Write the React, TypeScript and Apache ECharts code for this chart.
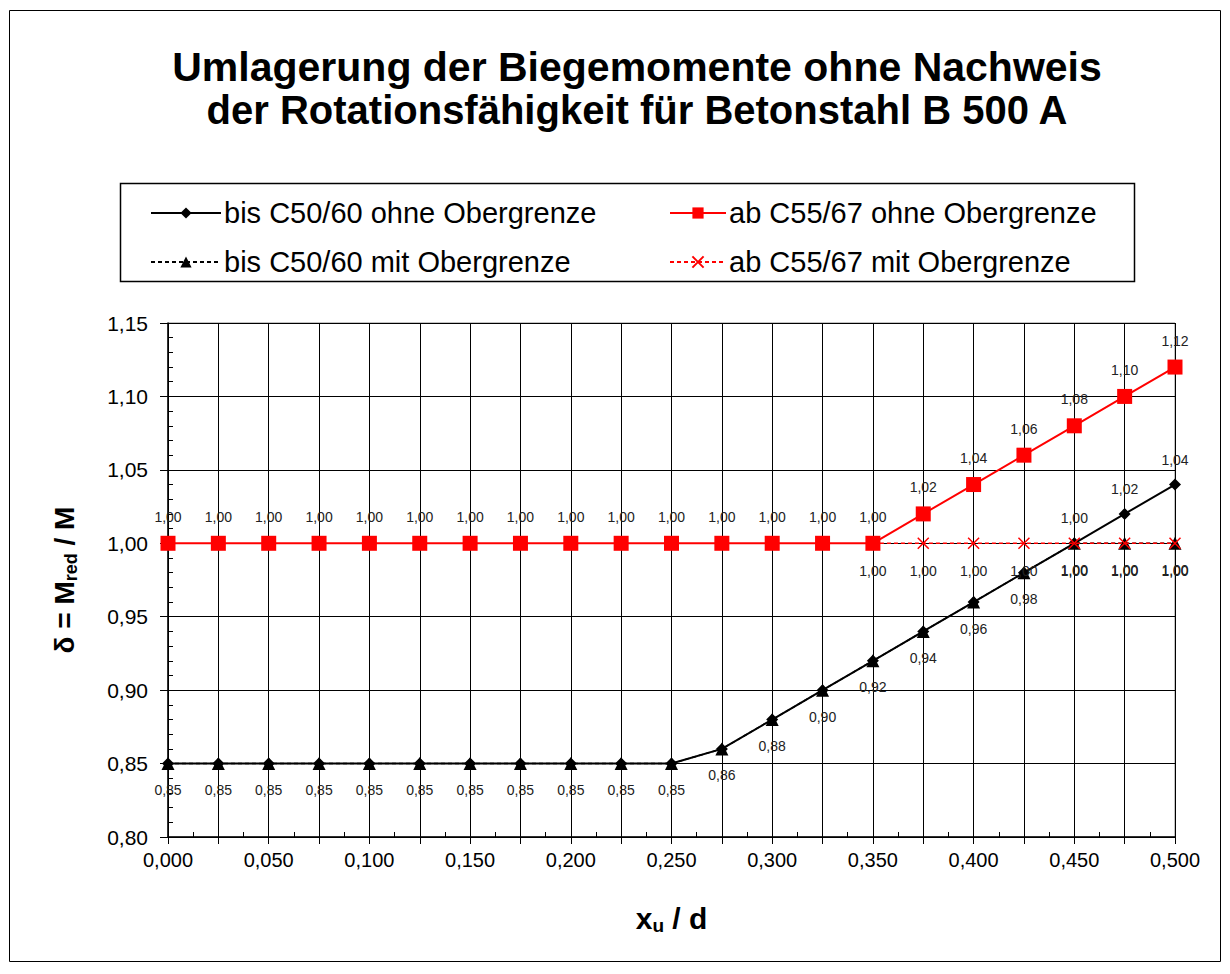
import React, { useEffect, useRef } from "react";
import * as echarts from "echarts";

const xValues = [0, 0.025, 0.05, 0.075, 0.1, 0.125, 0.15, 0.175, 0.2, 0.225, 0.25, 0.275, 0.3, 0.325, 0.35, 0.375, 0.4, 0.425, 0.45, 0.475, 0.5];
const bisOhne = [0.85, 0.85, 0.85, 0.85, 0.85, 0.85, 0.85, 0.85, 0.85, 0.85, 0.85, 0.86, 0.88, 0.9, 0.92, 0.94, 0.96, 0.98, 1.0, 1.02, 1.04];
const abOhne = [1.0, 1.0, 1.0, 1.0, 1.0, 1.0, 1.0, 1.0, 1.0, 1.0, 1.0, 1.0, 1.0, 1.0, 1.0, 1.02, 1.04, 1.06, 1.08, 1.1, 1.12];
const bisMit = [0.85, 0.85, 0.85, 0.85, 0.85, 0.85, 0.85, 0.85, 0.85, 0.85, 0.85, 0.86, 0.88, 0.9, 0.92, 0.94, 0.96, 0.98, 1.0, 1.0, 1.0];
const abMit = [null, null, null, null, null, null, null, null, null, null, null, null, null, null, 1.0, 1.0, 1.0, 1.0, 1.0, 1.0, 1.0];
const bisOhneLabelFrom = 0.45;

const titleLines = [
  "Umlagerung der Biegemomente ohne Nachweis",
  "der Rotationsfähigkeit für Betonstahl B 500 A",
];

const names = [
  "bis C50/60 ohne Obergrenze",
  "ab C55/67 ohne Obergrenze",
  "bis C50/60 mit Obergrenze",
  "ab C55/67 mit Obergrenze",
];

const fmt2 = (v: number) => v.toFixed(2).replace(".", ",");

export default function App() {
  const ref = useRef<HTMLDivElement>(null);
  useEffect(() => {
    document.body.style.margin = "0";
    const chart = echarts.init(ref.current!, null, { renderer: "svg" });
    const labelStyle = { fontSize: 14, color: "#222", fontFamily: "Liberation Sans, Arial", formatter: (p: any) => fmt2(p.value[1]) };
    const pairs = (ys: (number | null)[]) => xValues.map((x, i) => [x, ys[i]]);
    const legendText = { fontSize: 29, color: "#000", lineHeight: 30, padding: [0, 0, 0, -2] };
    const titleStyle = { fontSize: 40, fontWeight: "bold", color: "#000", lineHeight: 40, fontFamily: "Liberation Sans, Arial" };
    const option: any = {
      animation: false,
      backgroundColor: "#fff",
      textStyle: { fontFamily: "Liberation Sans, Arial" },
      title: [
        { text: titleLines[0], left: 637, textAlign: "center", top: 46, padding: 0, textStyle: { ...titleStyle, fontSize: 41, lineHeight: 41 } },
        { text: titleLines[1], left: 637, textAlign: "center", top: 90, padding: 0, textStyle: titleStyle },
      ],
      legend: [
        {
          data: [names[0], names[2]],
          orient: "vertical",
          left: 145,
          top: 193,
          itemWidth: 70,
          itemHeight: 14,
          itemGap: 19,
          textStyle: legendText,
        },
        {
          data: [names[1], names[3]],
          orient: "vertical",
          left: 664,
          top: 193,
          itemWidth: 56,
          itemHeight: 14,
          itemGap: 19,
          textStyle: legendText,
        },
      ],
      graphic: [
        { type: "rect", shape: { x: 9.5, y: 10.5, width: 1211, height: 951 }, style: { fill: "none", stroke: "#000", lineWidth: 1 }, silent: true },
        { type: "rect", shape: { x: 120.5, y: 183.5, width: 1014, height: 98 }, style: { fill: "none", stroke: "#000", lineWidth: 1.5 }, silent: true },
      ],
      grid: { left: 168, right: 55, top: 323, bottom: 137, show: true, borderColor: "#888", borderWidth: 1 },
      xAxis: {
        type: "value",
        min: 0,
        max: 0.5,
        interval: 0.025,
        name: "{a|x}{s|u}{a| / d}",
        nameLocation: "middle",
        nameGap: 64,
        nameTextStyle: {
          rich: {
            a: { fontSize: 30, fontWeight: "bold", color: "#000" },
            s: { fontSize: 19, fontWeight: "bold", color: "#000", padding: [15, 0, 0, 0] },
          },
        },
        axisLine: { lineStyle: { color: "#000", width: 1.5 } },
        axisTick: { show: true, length: 7, lineStyle: { color: "#000" } },
        minorTick: { show: true, splitNumber: 2, length: -5, lineStyle: { color: "#000" } },
        axisLabel: {
          fontSize: 20,
          color: "#000",
          margin: 13,
          showMaxLabel: true,
          formatter: (v: number) => (Math.round(v * 1000) % 50 === 0 ? v.toFixed(3).replace(".", ",") : ""),
        },
        splitLine: { show: true, lineStyle: { color: "#000", width: 1 } },
      },
      yAxis: {
        type: "value",
        min: 0.8,
        max: 1.15,
        interval: 0.05,
        name: "{a|δ = M}{s|red}{a| / M}",
        nameLocation: "middle",
        nameGap: 88,
        nameTextStyle: {
          rich: {
            a: { fontSize: 28, fontWeight: "bold", color: "#000" },
            s: { fontSize: 18, fontWeight: "bold", color: "#000", padding: [14, 0, 0, 0] },
          },
        },
        axisLine: { show: true, lineStyle: { color: "#000", width: 1.5 } },
        axisTick: { show: true, length: 8, lineStyle: { color: "#000" } },
        minorTick: { show: true, splitNumber: 5, length: -5, lineStyle: { color: "#000" } },
        axisLabel: { fontSize: 21, color: "#000", margin: 20, formatter: (v: number) => fmt2(v) },
        splitLine: { show: true, lineStyle: { color: "#000", width: 1 } },
      },
      series: [
        {
          name: names[0],
          type: "line",
          data: pairs(bisOhne).map((d) => ({
            value: d,
            label: { show: (d[0] as number) >= bisOhneLabelFrom - 1e-9, position: "top", distance: 12, ...labelStyle },
          })),
          symbol: "diamond",
          symbolSize: 12,
          itemStyle: { color: "#000" },
          lineStyle: { color: "#000", width: 2 },
          z: 2,
        },
        {
          name: names[2],
          type: "line",
          data: pairs(bisMit),
          symbol: "triangle",
          symbolSize: 13,
          itemStyle: { color: "#000" },
          lineStyle: { color: "#000", width: 1.5, type: [4, 3] },
          label: { show: true, position: "bottom", distance: 13, ...labelStyle },
          z: 3,
        },
        {
          name: names[1],
          type: "line",
          data: pairs(abOhne),
          symbol: "rect",
          symbolSize: 15,
          itemStyle: { color: "#ff0000" },
          lineStyle: { color: "#ff0000", width: 2 },
          label: { show: true, position: "top", distance: 12, ...labelStyle },
          z: 4,
        },
        {
          name: names[3],
          type: "line",
          data: pairs(abMit),
          symbol: "path://M0,0L10,10M10,0L0,10",
          symbolSize: 11,
          connectNulls: false,
          itemStyle: { color: "none", borderColor: "#ff0000", borderWidth: 1.5 },
          lineStyle: { color: "#ff0000", width: 1.5, type: [4, 3] },
          label: { show: true, position: "bottom", distance: 13, ...labelStyle },
          z: 5,
        },
      ],
    };
    chart.setOption(option);
    return () => chart.dispose();
  }, []);
  return <div ref={ref} style={{ width: 1230, height: 974 }} />;
}
